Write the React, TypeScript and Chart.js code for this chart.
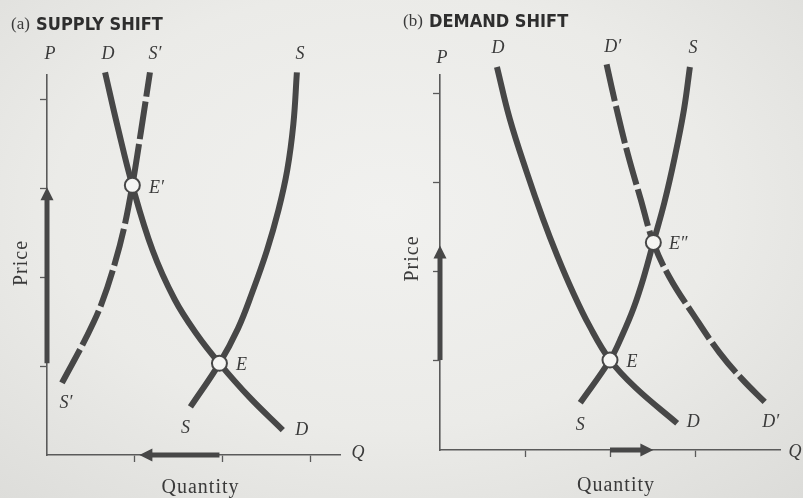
import React, { useEffect, useRef } from "react";
import { Chart, registerables } from "chart.js";

Chart.register(...registerables);

// ---------------- Panel (a): supply shift ----------------
const A_TITLE_TAG = "(a)";
const A_TITLE = "SUPPLY SHIFT";
const A_X_MAX = 3.33;
const A_Y_MAX = 4.27;
const A_X_TICKS = [1, 2, 3];
const A_Y_TICKS = [1, 2, 3, 4];
// demand curve D
const A_D_X = [0.66, 0.8, 0.97, 1.2, 1.45, 1.7, 1.96, 2.3, 2.68];
const A_D_Y = [4.3, 3.7, 3.03, 2.3, 1.75, 1.36, 1.03, 0.65, 0.28];
// supply curve S
const A_S_X = [1.63, 1.96, 2.17, 2.33, 2.5, 2.63, 2.73, 2.8, 2.84];
const A_S_Y = [0.54, 1.03, 1.42, 1.82, 2.3, 2.75, 3.2, 3.72, 4.3];
// shifted supply curve S'
const A_S1_X = [0.17, 0.45, 0.62, 0.77, 0.88, 0.97, 1.07, 1.17];
const A_S1_Y = [0.81, 1.33, 1.7, 2.15, 2.57, 3.03, 3.65, 4.3];
// equilibria E and E'
const A_E = [1.96, 1.03];
const A_E1 = [0.97, 3.03];

// ---------------- Panel (b): demand shift ----------------
const B_TITLE_TAG = "(b)";
const B_TITLE = "DEMAND SHIFT";
const B_X_MAX = 4.0;
const B_Y_MAX = 4.21;
const B_X_TICKS = [1, 2, 3];
const B_Y_TICKS = [1, 2, 3, 4];
// demand curve D
const B_D_X = [0.67, 0.82, 1.02, 1.21, 1.38, 1.56, 1.76, 2.0, 2.3, 2.79];
const B_D_Y = [4.3, 3.72, 3.12, 2.6, 2.18, 1.78, 1.39, 1.01, 0.7, 0.3];
// supply curve S
const B_S_X = [1.65, 2.0, 2.14, 2.28, 2.4, 2.51, 2.64, 2.76, 2.87, 2.94];
const B_S_Y = [0.53, 1.01, 1.28, 1.6, 1.95, 2.33, 2.78, 3.28, 3.82, 4.3];
// shifted demand curve D'
const B_D1_X = [1.96, 2.08, 2.21, 2.36, 2.51, 2.7, 2.98, 3.29, 3.56, 3.82];
const B_D1_Y = [4.33, 3.82, 3.32, 2.82, 2.33, 1.94, 1.52, 1.09, 0.79, 0.54];
// equilibria E and E''
const B_E = [2.0, 1.01];
const B_E2 = [2.51, 2.33];

// ---------------- styles ----------------
const INK = "#474747";
const AXIS = "#5a5a5a";
const TEXT = "#3a3a3a";
const SERIF_I = "italic 18px 'Liberation Serif', 'DejaVu Serif', serif";
const SERIF = "20px 'Liberation Serif', 'DejaVu Serif', serif";

type Pt = { x: number; y: number };
const pts = (xs: number[], ys: number[]): Pt[] => xs.map((x, i) => ({ x, y: ys[i] }));
const first = (xs: number[], ys: number[]) => [xs[0], ys[0]];
const last = (xs: number[], ys: number[]) => [xs[xs.length - 1], ys[ys.length - 1]];

type Label = { text: string; at: number[]; dx: number; dy: number; font?: string; rotate?: boolean; spacing?: string; align?: CanvasTextAlign };
type Arrow = { from: number[]; to: number[]; inset: number };
type Panel = {
  width: number;
  padding: { left: number; right: number; top: number; bottom: number };
  xMax: number;
  yMax: number;
  xTicks: number[];
  yTicks: number[];
  curves: { label: string; data: Pt[]; dashed: boolean }[];
  eq: Pt[];
  arrows: Arrow[];
  labels: Label[];
  title: { tag: string; text: string; x: number; y: number };
};

const PANEL_A: Panel = {
  width: 400,
  padding: { left: 40, right: 60, top: 75, bottom: 36 },
  xMax: A_X_MAX,
  yMax: A_Y_MAX,
  xTicks: A_X_TICKS,
  yTicks: A_Y_TICKS,
  curves: [
    { label: "D", data: pts(A_D_X, A_D_Y), dashed: false },
    { label: "S", data: pts(A_S_X, A_S_Y), dashed: false },
    { label: "S′", data: pts(A_S1_X, A_S1_Y), dashed: true },
  ],
  eq: [{ x: A_E[0], y: A_E[1] }, { x: A_E1[0], y: A_E1[1] }],
  arrows: [
    { from: [0, A_E[1]], to: [0, A_E1[1]], inset: 2 },
    { from: [A_E[0], 0], to: [A_E1[0], 0], inset: 7 },
  ],
  labels: [
    { text: "P", at: [0, A_Y_MAX], dx: 3, dy: -21 },
    { text: "D", at: first(A_D_X, A_D_Y), dx: 3, dy: -18 },
    { text: "S′", at: last(A_S1_X, A_S1_Y), dx: 5, dy: -18 },
    { text: "S", at: last(A_S_X, A_S_Y), dx: 3, dy: -18 },
    { text: "S′", at: first(A_S1_X, A_S1_Y), dx: 4, dy: 20 },
    { text: "S", at: first(A_S_X, A_S_Y), dx: -5, dy: 21 },
    { text: "D", at: last(A_D_X, A_D_Y), dx: 19, dy: 0 },
    { text: "E′", at: A_E1, dx: 24, dy: 3 },
    { text: "E", at: A_E, dx: 22, dy: 2 },
    { text: "Q", at: [A_X_MAX, 0], dx: 18, dy: -2 },
    { text: "Quantity", at: [A_X_MAX / 2, 0], dx: 7, dy: 33, font: SERIF, spacing: "1px" },
    { text: "Price", at: [0, A_Y_MAX / 2], dx: -25, dy: -2, font: SERIF, spacing: "1px", rotate: true },
  ],
  title: { tag: A_TITLE_TAG, text: A_TITLE, x: 11, y: 25 },
};

const PANEL_B: Panel = {
  width: 403,
  padding: { left: 33, right: 23, top: 75, bottom: 41 },
  xMax: B_X_MAX,
  yMax: B_Y_MAX,
  xTicks: B_X_TICKS,
  yTicks: B_Y_TICKS,
  curves: [
    { label: "D", data: pts(B_D_X, B_D_Y), dashed: false },
    { label: "S", data: pts(B_S_X, B_S_Y), dashed: false },
    { label: "D′", data: pts(B_D1_X, B_D1_Y), dashed: true },
  ],
  eq: [{ x: B_E[0], y: B_E[1] }, { x: B_E2[0], y: B_E2[1] }],
  arrows: [
    { from: [0, B_E[1]], to: [0, B_E2[1]], inset: 3 },
    { from: [B_E[0], 0], to: [B_E2[0], 0], inset: 0 },
  ],
  labels: [
    { text: "P", at: [0, B_Y_MAX], dx: 2, dy: -17 },
    { text: "D", at: first(B_D_X, B_D_Y), dx: 1, dy: -19 },
    { text: "D′", at: first(B_D1_X, B_D1_Y), dx: 6, dy: -17 },
    { text: "S", at: last(B_S_X, B_S_Y), dx: 3, dy: -19 },
    { text: "E″", at: B_E2, dx: 25, dy: 2 },
    { text: "E", at: B_E, dx: 22, dy: 2 },
    { text: "S", at: first(B_S_X, B_S_Y), dx: 0, dy: 22 },
    { text: "D", at: last(B_D_X, B_D_Y), dx: 16, dy: -1 },
    { text: "D′", at: last(B_D1_X, B_D1_Y), dx: 6, dy: 20 },
    { text: "Q", at: [B_X_MAX, 0], dx: 15, dy: 2 },
    { text: "Quantity", at: [B_X_MAX / 2, 0], dx: 6, dy: 36, font: SERIF, spacing: "1px" },
    { text: "Price", at: [0, B_Y_MAX / 2], dx: -27, dy: -4, font: SERIF, spacing: "1px", rotate: true },
  ],
  title: { tag: B_TITLE_TAG, text: B_TITLE, x: 3, y: 22 },
};

function overlayPlugin(p: Panel) {
  return {
    id: "overlay",
    beforeDatasetsDraw(chart: any) {
      const { ctx } = chart;
      const xs = chart.scales.x;
      const ys = chart.scales.y;
      ctx.save();
      for (const a of p.arrows) {
        const x1 = xs.getPixelForValue(a.from[0]);
        const y1 = ys.getPixelForValue(a.from[1]);
        let x2 = xs.getPixelForValue(a.to[0]);
        let y2 = ys.getPixelForValue(a.to[1]);
        const ang = Math.atan2(y2 - y1, x2 - x1);
        const c = Math.cos(ang);
        const s = Math.sin(ang);
        x2 -= c * a.inset;
        y2 -= s * a.inset;
        const head = 13;
        const half = 6.5;
        ctx.strokeStyle = INK;
        ctx.lineWidth = 5;
        ctx.lineCap = "butt";
        ctx.beginPath();
        ctx.moveTo(x1, y1);
        ctx.lineTo(x2 - c * (head - 2), y2 - s * (head - 2));
        ctx.stroke();
        ctx.fillStyle = INK;
        ctx.beginPath();
        ctx.moveTo(x2, y2);
        ctx.lineTo(x2 - c * head - s * half, y2 - s * head + c * half);
        ctx.lineTo(x2 - c * head + s * half, y2 - s * head - c * half);
        ctx.closePath();
        ctx.fill();
      }
      ctx.restore();
    },
    afterDraw(chart: any) {
      const { ctx } = chart;
      const xs = chart.scales.x;
      const ys = chart.scales.y;
      ctx.save();
      ctx.fillStyle = TEXT;
      ctx.textBaseline = "middle";
      for (const l of p.labels) {
        const x = xs.getPixelForValue(l.at[0]) + l.dx;
        const y = ys.getPixelForValue(l.at[1]) + l.dy;
        ctx.font = l.font || SERIF_I;
        (ctx as any).letterSpacing = l.spacing || "0px";
        ctx.textAlign = l.align || "center";
        if (l.rotate) {
          ctx.save();
          ctx.translate(x, y);
          ctx.rotate(-Math.PI / 2);
          ctx.fillText(l.text, 0, 0);
          ctx.restore();
        } else {
          ctx.fillText(l.text, x, y);
        }
      }
      (ctx as any).letterSpacing = "0px";
      // panel title
      ctx.textAlign = "left";
      ctx.font = "17px 'Liberation Serif', serif";
      ctx.fillText(p.title.tag, p.title.x, p.title.y);
      const w = ctx.measureText(p.title.tag + " ").width;
      ctx.font = "bold 18px 'DejaVu Sans Condensed', 'DejaVu Sans', sans-serif";
      ctx.fillStyle = "#2e2e2e";
      ctx.fillText(p.title.text, p.title.x + w + 2, p.title.y);
      ctx.restore();
    },
  };
}

function buildConfig(p: Panel): any {
  const tickColor = (c: any) => (c.tick && c.tick.value === 0 ? "rgba(0,0,0,0)" : AXIS);
  const datasets: any[] = [
    {
      label: "equilibria",
      data: p.eq,
      showLine: false,
      pointRadius: 7.5,
      pointBackgroundColor: "#f5f5f3",
      pointBorderColor: INK,
      pointBorderWidth: 2,
      order: -1,
      clip: false,
    },
    ...p.curves.map((c) => ({
      label: c.label,
      data: c.data,
      showLine: true,
      borderColor: INK,
      borderWidth: 6,
      borderCapStyle: "butt",
      borderDash: c.dashed ? [38, 5] : [],
      pointRadius: 0,
      tension: 0.4,
      clip: false,
      order: 1,
    })),
  ];
  return {
    type: "scatter",
    data: { datasets },
    options: {
      animation: false,
      responsive: false,
      devicePixelRatio: 1,
      events: [],
      layout: { padding: p.padding },
      plugins: { legend: { display: false }, tooltip: { enabled: false }, title: { display: false } },
      scales: {
        x: {
          type: "linear",
          min: 0,
          max: p.xMax,
          afterBuildTicks: (s: any) => {
            s.ticks = [0, ...p.xTicks].map((v) => ({ value: v }));
          },
          ticks: { display: false },
          grid: { display: true, drawOnChartArea: false, drawTicks: true, tickLength: 7, tickWidth: 1.3, tickColor, color: tickColor },
          border: { display: true, color: AXIS, width: 1.6 },
        },
        y: {
          type: "linear",
          min: 0,
          max: p.yMax,
          afterBuildTicks: (s: any) => {
            s.ticks = [0, ...p.yTicks].map((v) => ({ value: v }));
          },
          ticks: { display: false },
          grid: { display: true, drawOnChartArea: false, drawTicks: true, tickLength: 7, tickWidth: 1.3, tickColor, color: tickColor },
          border: { display: true, color: AXIS, width: 1.6 },
        },
      },
    },
    plugins: [overlayPlugin(p)],
  };
}

export default function App() {
  const aRef = useRef<HTMLCanvasElement>(null);
  const bRef = useRef<HTMLCanvasElement>(null);
  useEffect(() => {
    const ca = new Chart(aRef.current as HTMLCanvasElement, buildConfig(PANEL_A));
    const cb = new Chart(bRef.current as HTMLCanvasElement, buildConfig(PANEL_B));
    return () => {
      ca.destroy();
      cb.destroy();
    };
  }, []);
  return (
    <div
      style={{
        position: "fixed",
        left: 0,
        top: 0,
        width: 803,
        height: 498,
        overflow: "hidden",
        background:
          "radial-gradient(ellipse 75% 80% at 48% 42%, #f1f1ef 0%, #ebebe8 55%, #dcdcd9 100%)",
      }}
    >
      <canvas ref={aRef} width={400} height={498} style={{ position: "absolute", left: 0, top: 0 }} />
      <canvas ref={bRef} width={403} height={498} style={{ position: "absolute", left: 400, top: 0 }} />
    </div>
  );
}
